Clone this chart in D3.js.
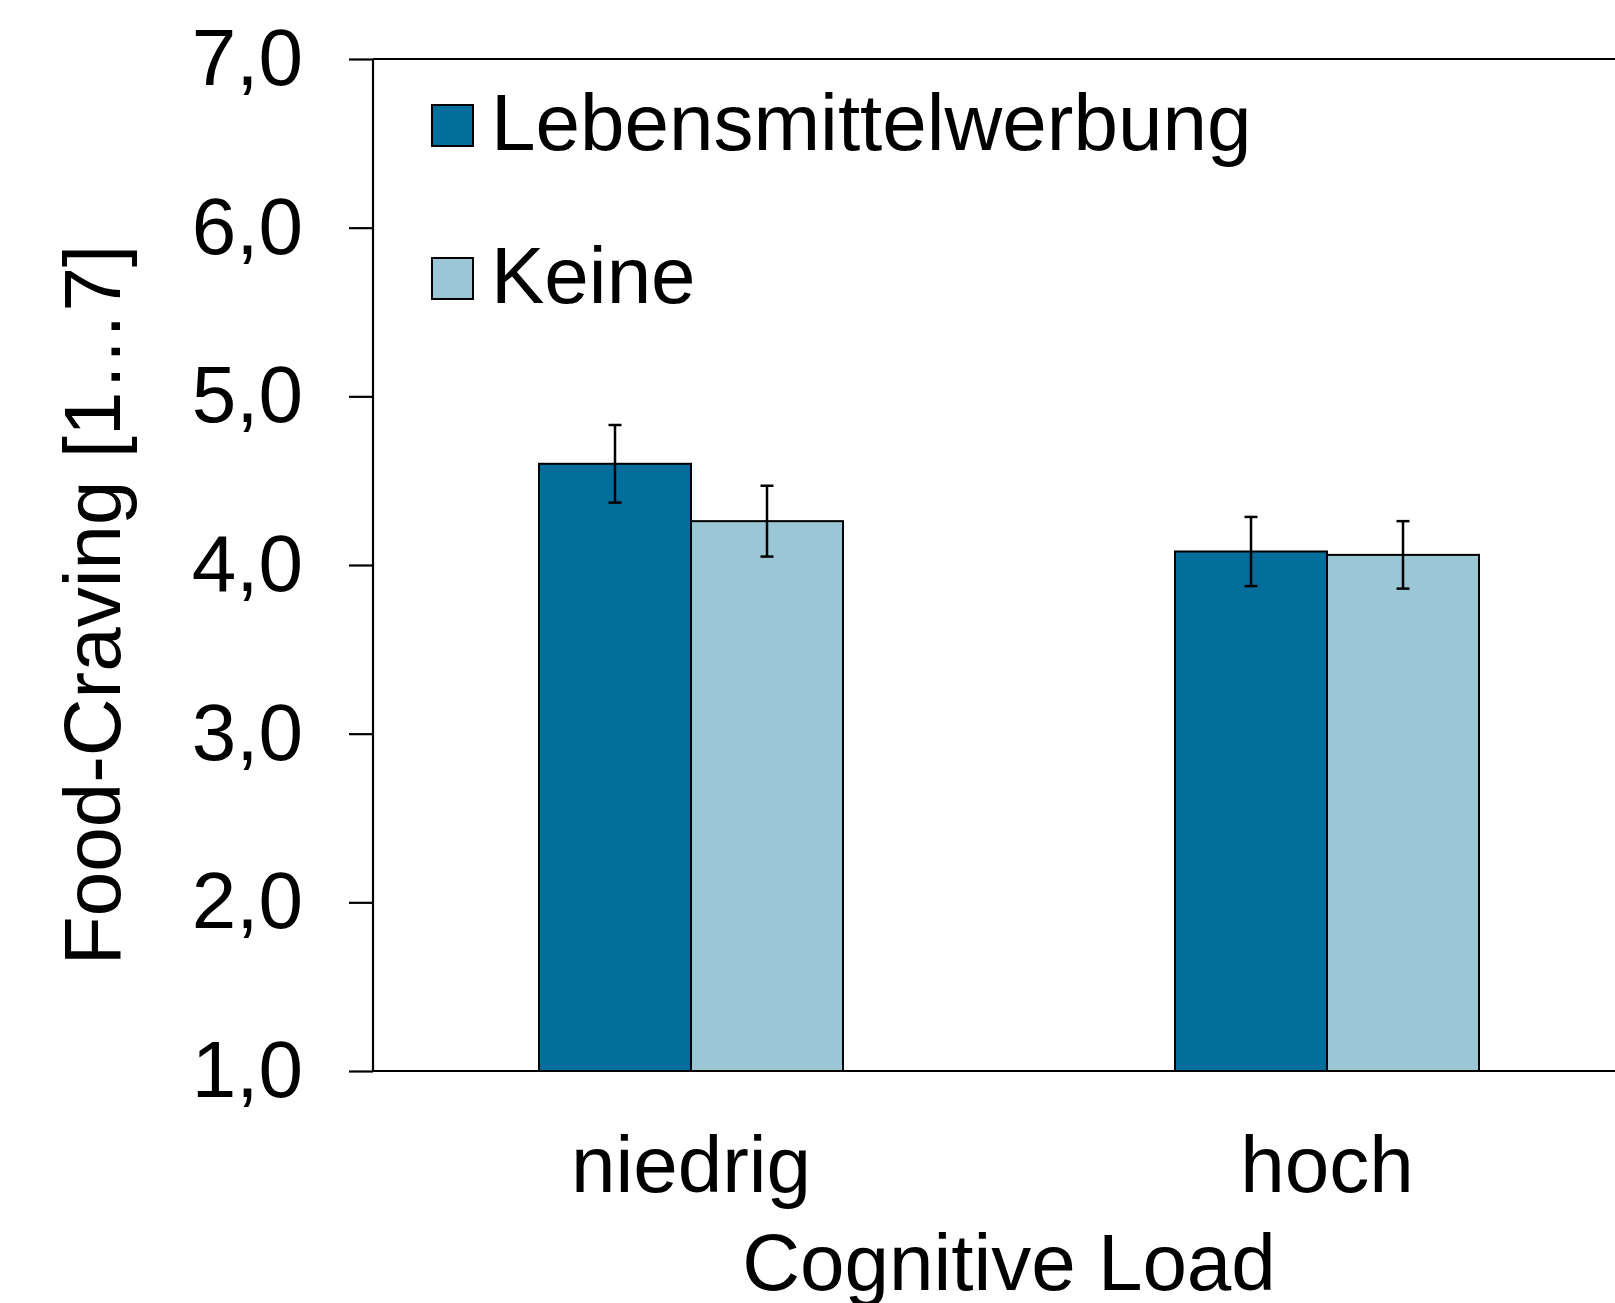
<!DOCTYPE html>
<html>
<head>
<meta charset="utf-8">
<script src="https://cdn.jsdelivr.net/npm/d3@7"></script>
<style>
  html, body { margin: 0; padding: 0; background: #fff; }
  svg { display: block; }
  text { font-family: "Liberation Sans", Arial, sans-serif; fill: #000; }
</style>
</head>
<body>
<svg id="chart" width="1615" height="1303"></svg>
<script>
const categories = ["niedrig", "hoch"];
const seriesNames = ["Lebensmittelwerbung", "Keine"];
const seriesColors = ["#036e9b", "#9bc6d6"];
const valuesWerbung = [4.60, 4.08];
const valuesKeine = [4.26, 4.06];
const errorsWerbung = [0.23, 0.205];
const errorsKeine = [0.21, 0.20];
const yTicks = [1, 2, 3, 4, 5, 6, 7];
const yTickLabels = ["1,0", "2,0", "3,0", "4,0", "5,0", "6,0", "7,0"];
const yTitle = "Food-Craving [1…7]";
const xTitle = "Cognitive Load";

(function () {
const svg = d3.select("#chart");
const mLeft = 373, mTop = 59, mBottom = 1071, mRight = 1645;

const y = d3.scaleLinear().domain([1, 7]).range([mBottom, mTop]);
const x0 = d3.scaleBand().domain(categories).range([mLeft, mRight])
  .paddingInner(0.522).paddingOuter(0.261);
const x1 = d3.scaleBand().domain(seriesNames).range([0, x0.bandwidth()]);

const rows = categories.map((c, i) => ({
  cat: c,
  items: [
    { s: seriesNames[0], v: valuesWerbung[i], e: errorsWerbung[i], color: seriesColors[0] },
    { s: seriesNames[1], v: valuesKeine[i], e: errorsKeine[i], color: seriesColors[1] }
  ]
}));

// bars
const g = svg.append("g");
const groups = g.selectAll("g.cat").data(rows).join("g")
  .attr("class", "cat")
  .attr("transform", d => `translate(${x0(d.cat)},0)`);
groups.selectAll("rect").data(d => d.items).join("rect")
  .attr("x", d => x1(d.s))
  .attr("y", d => y(d.v))
  .attr("width", x1.bandwidth())
  .attr("height", d => y(1) - y(d.v))
  .attr("fill", d => d.color)
  .attr("stroke", "#000")
  .attr("stroke-width", 2);

// error bars
const eb = groups.selectAll("g.err").data(d => d.items).join("g").attr("class", "err");
eb.append("line")
  .attr("x1", d => x1(d.s) + x1.bandwidth() / 2)
  .attr("x2", d => x1(d.s) + x1.bandwidth() / 2)
  .attr("y1", d => y(d.v + d.e))
  .attr("y2", d => y(d.v - d.e))
  .attr("stroke", "#000").attr("stroke-width", 2.5);
[1, -1].forEach(sign => {
  eb.append("line")
    .attr("x1", d => x1(d.s) + x1.bandwidth() / 2 - 6.5)
    .attr("x2", d => x1(d.s) + x1.bandwidth() / 2 + 6.5)
    .attr("y1", d => y(d.v + sign * d.e))
    .attr("y2", d => y(d.v + sign * d.e))
    .attr("stroke", "#000").attr("stroke-width", 2.5);
});

// y axis
const yAxis = d3.axisLeft(y).tickValues(yTicks)
  .tickFormat((d, i) => yTickLabels[i]).tickSize(24).tickPadding(46);
const ya = svg.append("g").attr("transform", `translate(${mLeft},0)`).call(yAxis);
ya.select(".domain").remove();
ya.selectAll(".tick line").attr("stroke", "#000").attr("stroke-width", 2.2);
ya.selectAll(".tick text").attr("font-size", 80)
  .attr("font-family", "'Liberation Sans', Arial, sans-serif").attr("fill", "#000")
  .attr("dy", "0.32em");
svg.append("line").attr("x1", mLeft).attr("x2", mLeft).attr("y1", mTop).attr("y2", mBottom)
  .attr("stroke", "#000").attr("stroke-width", 2.2);
// frame top and baseline
svg.append("line").attr("x1", mLeft).attr("x2", 1615).attr("y1", mTop).attr("y2", mTop)
  .attr("stroke", "#000").attr("stroke-width", 2.2);
svg.append("line").attr("x1", mLeft).attr("x2", 1615).attr("y1", mBottom).attr("y2", mBottom)
  .attr("stroke", "#000").attr("stroke-width", 2.2);

// x axis labels
const xAxis = d3.axisBottom(x0).tickSize(0).tickPadding(0);
const xa = svg.append("g").attr("transform", `translate(0,${mBottom})`).call(xAxis);
xa.select(".domain").remove();
xa.selectAll(".tick text").attr("font-size", 80)
  .attr("font-family", "'Liberation Sans', Arial, sans-serif").attr("fill", "#000")
  .attr("dy", null).attr("y", 121);

// titles
svg.append("text").attr("x", (mLeft + mRight) / 2).attr("y", 1290)
  .attr("text-anchor", "middle").attr("font-size", 80).text(xTitle);
svg.append("text").attr("transform", "translate(120,605) rotate(-90)")
  .attr("text-anchor", "middle").attr("font-size", 80).text(yTitle);

// legend
const legend = svg.append("g");
const legendY = [105, 258];
seriesNames.forEach((s, i) => {
  legend.append("rect").attr("x", 432).attr("y", legendY[i]).attr("width", 41).attr("height", 41)
    .attr("fill", seriesColors[i]).attr("stroke", "#000").attr("stroke-width", 2);
  legend.append("text").attr("x", 491).attr("y", legendY[i] + 45)
    .attr("font-size", 80).text(s);
});
})();
</script>
</body>
</html>
